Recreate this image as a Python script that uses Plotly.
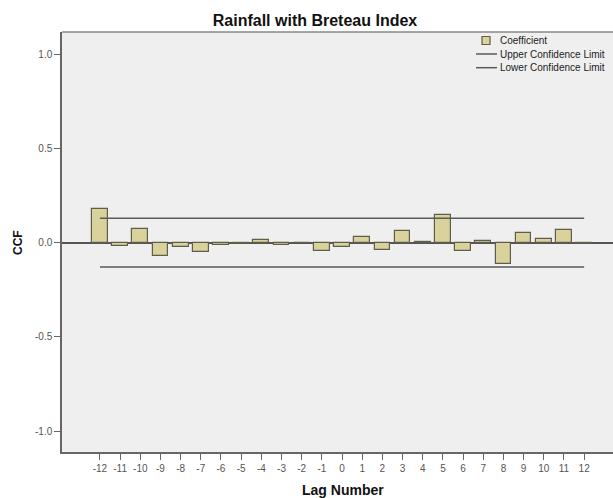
import plotly.graph_objects as go

lags = list(range(-12, 13))
coefficient = [0.18, -0.016, 0.07, -0.07, -0.024, -0.05, -0.013, -0.008, 0.015, -0.012,
               -0.003, -0.043, -0.024, 0.03, -0.04, 0.06, 0.004, 0.147, -0.045, 0.008,
               -0.112, 0.05, 0.02, 0.068, -0.009]
upper_limit = [0.129] * len(lags)
lower_limit = [-0.129] * len(lags)
y_ticks = [-1.0, -0.5, 0.0, 0.5, 1.0]
y_tick_labels = ["-1.0", "-0.5", "0.0", "0.5", "1.0"]
legend_labels = ["Coefficient", "Upper Confidence Limit", "Lower Confidence Limit"]

FONT = "Liberation Sans, Arial, sans-serif"
W, H = 613, 498
ML, MR, MT, MB = 62, 0, 32, 46
PW, PH = W - ML - MR, H - MT - MB


def px(xp):
    return (xp - ML) / PW


def py(yp):
    return (H - MB - yp) / PH


BAR_FILL = "#d9d29c"
BAR_EDGE = "#5e5e4a"
LIMIT_COLOR = "#5a5a5a"

fig = go.Figure()
fig.add_trace(go.Bar(
    x=lags, y=coefficient, name=legend_labels[0], width=0.78,
    marker=dict(color=BAR_FILL, line=dict(color=BAR_EDGE, width=1.2)),
))
fig.add_trace(go.Scatter(
    x=lags, y=upper_limit, mode="lines", name=legend_labels[1],
    line=dict(color=LIMIT_COLOR, width=1.5),
))
fig.add_trace(go.Scatter(
    x=lags, y=lower_limit, mode="lines", name=legend_labels[2],
    line=dict(color=LIMIT_COLOR, width=1.5),
))

fig.update_layout(
    width=W, height=H,
    margin=dict(l=ML, r=MR, t=MT, b=MB, autoexpand=False),
    paper_bgcolor="white",
    plot_bgcolor="#efefef",
    font=dict(family=FONT, size=10, color="#444"),
    title=dict(text="<b>Rainfall with Breteau Index</b>", x=315 / W, xanchor="center",
               y=1 - 20 / H, yanchor="middle",
               font=dict(family=FONT, size=16, color="#111")),
    bargap=0,
    showlegend=False,
    xaxis=dict(
        range=[-13.88, 13.43], tickmode="array", tickvals=lags,
        ticktext=[str(v) for v in lags],
        showgrid=False, zeroline=False,
        showline=True, linecolor="#666", linewidth=1.5, mirror=False,
        ticks="outside", ticklen=6, tickcolor="#666",
        tickfont=dict(size=10, color="#555"),
    ),
    yaxis=dict(
        range=[-1.111, 1.117], tickmode="array", tickvals=y_ticks, ticktext=y_tick_labels,
        showgrid=False, zeroline=True, zerolinecolor="#555", zerolinewidth=1.5,
        showline=True, linecolor="#666", linewidth=1.5,
        ticks="outside", ticklen=6, tickcolor="#666",
        tickfont=dict(size=10, color="#555"),
    ),
)

# top border of plot frame
fig.add_shape(type="line", xref="paper", yref="paper", x0=0, x1=1, y0=1, y1=1,
              line=dict(color="#888", width=1.5))

# axis titles
fig.add_annotation(text="<b>Lag Number</b>", xref="paper", yref="paper",
                   x=px(343), y=py(490), xanchor="center", yanchor="middle",
                   showarrow=False, font=dict(size=14, color="#111"))
fig.add_annotation(text="<b>CCF</b>", xref="paper", yref="paper",
                   x=px(18), y=py(243), xanchor="center", yanchor="middle",
                   textangle=-90, showarrow=False, font=dict(size=12, color="#111"))

# legend (drawn manually to match the compact layout)
fig.add_shape(type="rect", xref="paper", yref="paper",
              x0=px(482), x1=px(490), y0=py(44.5), y1=py(36.5),
              fillcolor=BAR_FILL, line=dict(color=BAR_EDGE, width=1.2))
for yy in (54, 67.7):
    fig.add_shape(type="line", xref="paper", yref="paper",
                  x0=px(476), x1=px(497), y0=py(yy), y1=py(yy),
                  line=dict(color=LIMIT_COLOR, width=1.5))
for label, yy in zip(legend_labels, (40.7, 54, 67.7)):
    fig.add_annotation(text=label, xref="paper", yref="paper",
                       x=px(498), y=py(yy), xanchor="left", yanchor="middle",
                       showarrow=False, font=dict(size=10, color="#222"))

fig.write_html("out.html", config={"displayModeBar": False},
               post_script="document.body.style.margin='0px';")
